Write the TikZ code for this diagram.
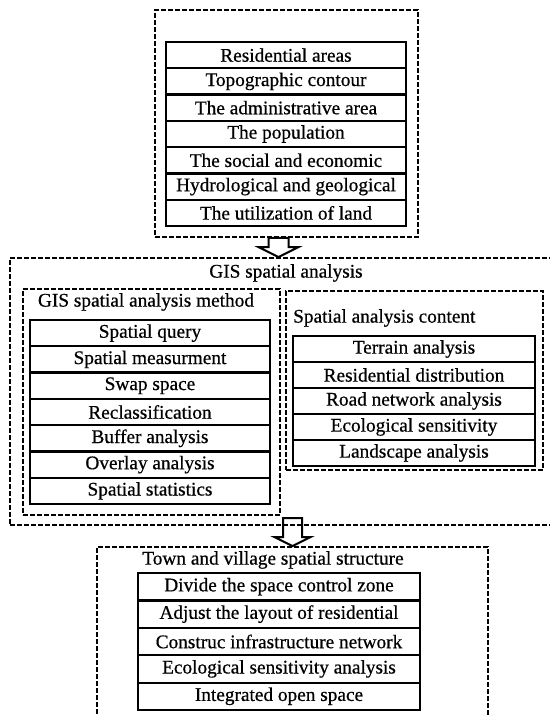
\documentclass[tikz,border=0pt]{standalone}
\usepackage{fontspec}
\setmainfont{Liberation Serif}[FakeBold=0.6]
\usetikzlibrary{calc}

\begin{document}
\begin{tikzpicture}[
  x=1pt, y=-1pt,
  frame/.style={
    rectangle, draw, line width=1.8pt, dash pattern=on 5pt off 2pt,
    inner sep=0pt
  },
  row/.style={
    rectangle, draw, line width=2.2pt, inner sep=0pt,
    minimum height=26.3pt, align=center,
    font=\fontsize{19.3}{22}\selectfont
  },
  datarow/.style={row, minimum width=240pt},
  methrow/.style={row, minimum width=240pt},
  controw/.style={row, minimum width=242pt, minimum height=26pt},
  townrow/.style={row, minimum width=282pt, minimum height=27.4pt},
  title/.style={inner sep=0pt, font=\fontsize{19.3}{22}\selectfont},
  blockarrow/.style={draw, line width=2pt, line join=miter}
]
\useasboundingbox (0,0) rectangle (549,715);

% --- Input data ---
\node[frame, minimum width=263pt, minimum height=227pt] (top) at (286.5,123.5) {};

\node[datarow] (d1) at (286, 55.1)  {Residential areas};
\node[datarow] (d2) at (286, 81.4)  {Topographic contour};
\node[datarow] (d3) at (286, 107.7) {The administrative area};
\node[datarow] (d4) at (286, 134.0) {The population};
\node[datarow] (d5) at (286, 160.3) {The social and economic};
\node[datarow] (d6) at (286, 186.6) {Hydrological and geological};
\node[datarow] (d7) at (286, 212.9) {The utilization of land};

% =========================================================
% GIS SPATIAL ANALYSIS (right side runs off the page)
% =========================================================
\node[frame, minimum width=590pt, minimum height=267pt] (gis) at (305,391.5) {};
\node[title] (gistitle) at (286,273) {GIS spatial analysis};

% --- Left panel: methods ---
\node[frame, minimum width=257pt, minimum height=226pt] (meth) at (151.5,402) {};
\node[title] (methtitle) at (146,302) {GIS spatial analysis method};

\node[methrow] (m1) at (150, 333.1) {Spatial query};
\node[methrow] (m2) at (150, 359.4) {Spatial measurment};
\node[methrow] (m3) at (150, 385.7) {Swap space};
\node[methrow] (m4) at (150, 412.0) {Reclassification};
\node[methrow] (m5) at (150, 438.3) {Buffer analysis};
\node[methrow] (m6) at (150, 464.6) {Overlay analysis};
\node[methrow] (m7) at (150, 490.9) {Spatial statistics};

% --- Right panel: content ---
\node[frame, minimum width=257pt, minimum height=179pt] (cont) at (414.5,380.5) {};
\node[title, anchor=west] (conttitle) at (293,318) {Spatial analysis content};

\node[controw] (c1) at (414, 349) {Terrain analysis};
\node[controw] (c2) at (414, 375) {Residential distribution};
\node[controw] (c3) at (414, 401) {Road network analysis};
\node[controw] (c4) at (414, 427) {Ecological sensitivity};
\node[controw] (c5) at (414, 453) {Landscape analysis};

% =========================================================
% TOWN AND VILLAGE SPATIAL STRUCTURE (bottom runs off the page)
% =========================================================
\node[frame, minimum width=391pt, minimum height=183pt] (town) at (292.5,638.5) {};
\node[title] (towntitle) at (273,560) {Town and village spatial structure};

\node[townrow] (s1) at (279, 586.7) {Divide the space control zone};
\node[townrow] (s2) at (279, 614.1) {Adjust the layout of residential};
\node[townrow] (s3) at (279, 641.5) {Construc infrastructure network};
\node[townrow] (s4) at (279, 668.9) {Ecological sensitivity analysis};
\node[townrow] (s5) at (279, 696.3) {Integrated open space};

% --- Hollow block arrows between the stages ---
\path (top.south) ++(-8,0) coordinate (a1s);
\coordinate (a1e) at (a1s |- gis.north);
\coordinate (a2e) at (town.north);
\path (a2e) ++(0,-28) coordinate (a2s);

\draw[blockarrow] ($(a1s)+(-10,0)$) -- ($(a1e)+(-10,-10)$) -- ($(a1e)+(-20,-10)$)
  -- (a1e) -- ($(a1e)+(20,-10)$) -- ($(a1e)+(10,-10)$) -- ($(a1s)+(10,0)$) -- cycle;
\draw[blockarrow] ($(a2s)+(-9.5,0)$) -- ($(a2e)+(-9.5,-9)$) -- ($(a2e)+(-18,-9)$)
  -- (a2e) -- ($(a2e)+(18,-9)$) -- ($(a2e)+(9.5,-9)$) -- ($(a2s)+(9.5,0)$) -- cycle;

\end{tikzpicture}
\end{document}
